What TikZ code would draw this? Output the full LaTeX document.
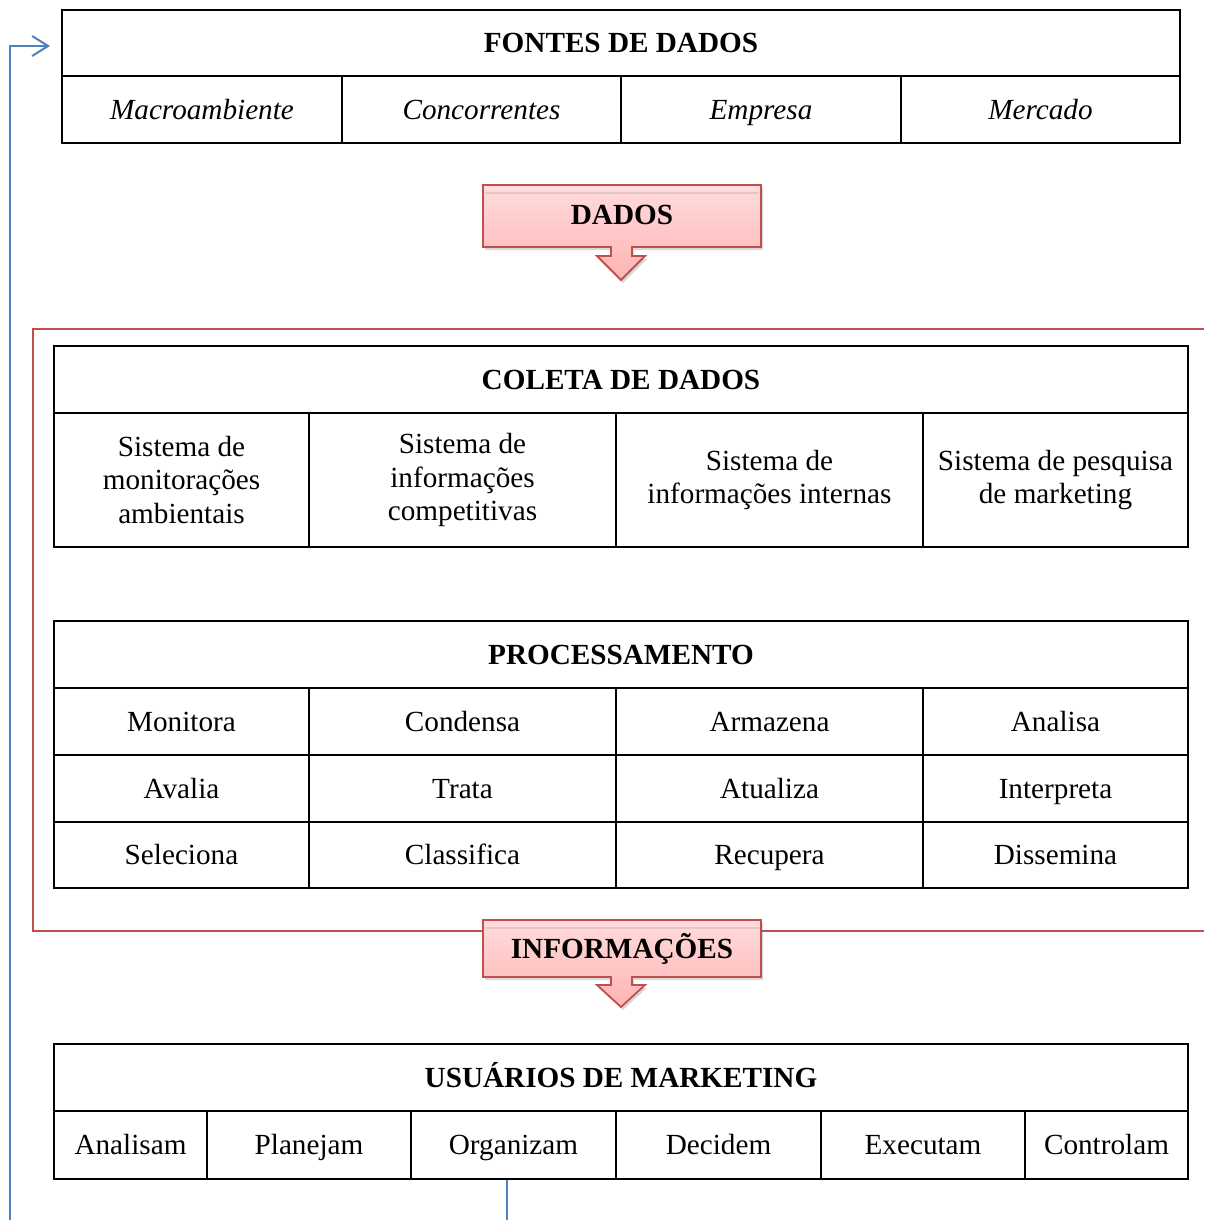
\documentclass[tikz,border=0pt]{standalone}
\usepackage{fontspec}
\setmainfont{Liberation Serif}
\usetikzlibrary{arrows.meta,shadows}
\definecolor{frred}{HTML}{C0504D}
\definecolor{lnblue}{HTML}{4F81BD}
\definecolor{calltop}{HTML}{FFDCDC}
\definecolor{callbot}{HTML}{FFB3B3}
\definecolor{gloss}{HTML}{E8C4C4}
\begin{document}
\begin{tikzpicture}[x=0.5pt,y=-0.5pt,
 box/.style={draw=black, line width=1pt, inner sep=0pt, align=center, font=\fontsize{14.6}{16.75}\selectfont},
 cell/.style={box, text height=9.7pt, text depth=0pt},
 multi/.style={box},
 head/.style={cell, font=\fontsize{14.6}{16.75}\selectfont\bfseries},
 ital/.style={cell, font=\fontsize{14.6}{16.75}\selectfont\itshape},
 callout/.style={draw=frred, line width=0.9pt, top color=calltop, bottom color=callbot,
   drop shadow={shadow xshift=1pt, shadow yshift=-1.5pt, opacity=0.3}},
 calltext/.style={font=\fontsize{14.6}{16.75}\selectfont\bfseries, inner sep=0pt, text height=9.7pt, text depth=0pt},
 frame/.style={draw=frred, line width=1.3pt},
 loopline/.style={draw=lnblue, line width=1pt}]
\useasboundingbox (0,0) rectangle (1204,1220);

% red frame
\draw[frame] (1204,329) -- (33,329) -- (33,931) -- (1204,931);

% callouts
\path[callout] (483,185) -- (761,185) -- (761,247) -- (632,247) -- (632,256) -- (645,256) -- (621,280) -- (597,256) -- (611,256) -- (611,247) -- (483,247) -- cycle;
\draw[gloss, line width=0.6pt] (485,193) -- (759,193);
\node[calltext] (dados) at (622,215) {DADOS};

\path[callout] (483,920) -- (761,920) -- (761,977) -- (632,977) -- (632,985) -- (645,985) -- (621,1007) -- (597,985) -- (611,985) -- (611,977) -- (483,977) -- cycle;
\draw[gloss, line width=0.6pt] (485,928) -- (759,928);
\node[calltext] (info) at (622,949) {INFORMAÇÕES};

% table 1
\node[head, minimum width=559pt, minimum height=33pt] (t1h) at (621,43) {FONTES DE DADOS};
\node[ital, minimum width=140pt, minimum height=33.5pt] (t1a) at (202,109.5) {Macroambiente};
\node[ital, minimum width=139.5pt, minimum height=33.5pt] (t1b) at (481.5,109.5) {Concorrentes};
\node[ital, minimum width=140pt, minimum height=33.5pt] (t1c) at (761,109.5) {Empresa};
\node[ital, minimum width=139.5pt, minimum height=33.5pt] (t1d) at (1040.5,109.5) {Mercado};

% table 2
\node[head, minimum width=567pt, minimum height=33.5pt] (t2h) at (621,379.5) {COLETA DE DADOS};
\node[multi, minimum width=127.5pt, minimum height=67pt] (t2a) at (181.5,480) {Sistema de\\monitorações\\ambientais};
\node[multi, minimum width=153.5pt, minimum height=67pt] (t2b) at (462.5,480) {Sistema de\\informações\\competitivas};
\node[multi, minimum width=153.5pt, minimum height=67pt] (t2c) at (769.5,480) {Sistema de\\informações internas};
\node[multi, minimum width=132.5pt, minimum height=67pt] (t2d) at (1055.5,480) {Sistema de pesquisa\\de marketing};

% table 3
\node[head, minimum width=567pt, minimum height=33.5pt] (t3h) at (621,654.5) {PROCESSAMENTO};
\node[cell, minimum width=127.5pt, minimum height=33.5pt] (p11) at (181.5,721.5) {Monitora};
\node[cell, minimum width=153.5pt, minimum height=33.5pt] (p12) at (462.5,721.5) {Condensa};
\node[cell, minimum width=153.5pt, minimum height=33.5pt] (p13) at (769.5,721.5) {Armazena};
\node[cell, minimum width=132.5pt, minimum height=33.5pt] (p14) at (1055.5,721.5) {Analisa};
\node[cell, minimum width=127.5pt, minimum height=33.5pt] (p21) at (181.5,788.5) {Avalia};
\node[cell, minimum width=153.5pt, minimum height=33.5pt] (p22) at (462.5,788.5) {Trata};
\node[cell, minimum width=153.5pt, minimum height=33.5pt] (p23) at (769.5,788.5) {Atualiza};
\node[cell, minimum width=132.5pt, minimum height=33.5pt] (p24) at (1055.5,788.5) {Interpreta};
\node[cell, minimum width=127.5pt, minimum height=33pt] (p31) at (181.5,855) {Seleciona};
\node[cell, minimum width=153.5pt, minimum height=33pt] (p32) at (462.5,855) {Classifica};
\node[cell, minimum width=153.5pt, minimum height=33pt] (p33) at (769.5,855) {Recupera};
\node[cell, minimum width=132.5pt, minimum height=33pt] (p34) at (1055.5,855) {Dissemina};

% table 4
\node[head, minimum width=567pt, minimum height=33.5pt] (t4h) at (621,1077.5) {USUÁRIOS DE MARKETING};
\node[cell, minimum width=76.5pt, minimum height=34pt] (u1) at (130.5,1145) {Analisam};
\node[cell, minimum width=102pt, minimum height=34pt] (u2) at (309,1145) {Planejam};
\node[cell, minimum width=102.5pt, minimum height=34pt] (u3) at (513.5,1145) {Organizam};
\node[cell, minimum width=102.5pt, minimum height=34pt] (u4) at (718.5,1145) {Decidem};
\node[cell, minimum width=102pt, minimum height=34pt] (u5) at (923,1145) {Executam};
\node[cell, minimum width=81.5pt, minimum height=34pt] (u6) at (1106.5,1145) {Controlam};

% feedback loop
\coordinate (lbot) at (507,1220);
\coordinate (lstart) at (10,1220);
\coordinate (ltip) at (50,46);
\draw[loopline] (u3.south -| lbot) -- (lbot);
\draw[loopline, -{Straight Barb[length=8pt,width=10pt]}] (lstart) |- (ltip);
\end{tikzpicture}
\end{document}
